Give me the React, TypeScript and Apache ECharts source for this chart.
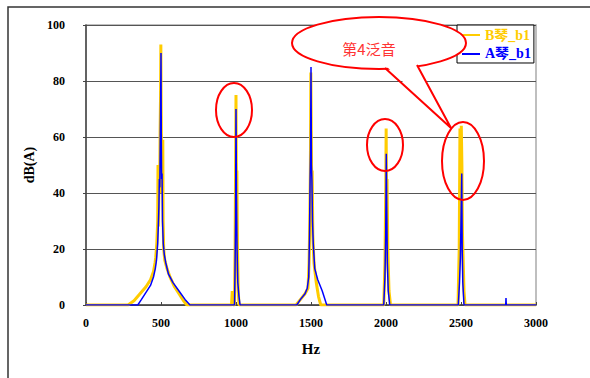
import React, { useEffect, useRef } from "react";
import * as echarts from "echarts";

// Spectrum data: frequency (Hz) and level dB(A)
const bHz = [0, 280, 320, 360, 400, 430, 450, 460, 465, 472, 478, 480, 482, 487, 491, 494, 497, 499, 501, 504, 508, 512, 514, 518, 525, 540, 560, 590, 620, 650, 673,
  970, 975, 980, 990, 994, 997, 1000, 1003, 1006, 1010, 1015, 1020,
  1400, 1430, 1460, 1480, 1487, 1492, 1496, 1499, 1502, 1505, 1508, 1512, 1520, 1535, 1550, 1565,
  1985, 1993, 1998, 2001, 2004, 2007, 2012, 2020, 2030,
  2480, 2488, 2493, 2497, 2502, 2506, 2510, 2520, 2527, 3000];
const bDb = [0, 0, 1.5, 4, 6.5, 9, 12, 15, 17, 22, 30, 50, 28, 45, 40, 62, 75, 93, 70, 50, 40, 59, 30, 20, 16, 13, 10, 6.5, 4, 1.5, 0,
  0, 5, 0, 0, 20, 48, 75, 35, 48, 20, 5, 0,
  0, 2, 4, 6, 15, 30, 50, 83, 60, 40, 48, 25, 15, 8, 3, 0,
  0, 15, 40, 63, 30, 45, 20, 5, 0,
  0, 20, 63, 40, 64, 50, 25, 5, 0, 0];

const aHz = [0, 345, 370, 400, 430, 450, 462, 470, 478, 482, 486, 489, 492, 495, 498, 500, 502, 504, 507, 510, 515, 522, 532, 550, 580, 620, 660, 693,
  990, 993, 997, 1000, 1003, 1007, 1012, 1020, 1027,
  1405, 1430, 1460, 1475, 1485, 1490, 1494, 1497, 1500, 1503, 1506, 1510, 1515, 1525, 1545, 1575, 1605,
  1985, 1993, 1998, 2002, 2005, 2009, 2015, 2025,
  2482, 2490, 2496, 2500, 2505, 2508, 2512, 2520,
  2798, 2800, 2802, 3000];
const aDb = [0, 0, 2, 4.5, 7, 10, 13, 16, 22, 28, 35, 45, 42, 58, 75, 90, 60, 45, 47, 30, 22, 18, 15, 11, 8, 5, 2, 0,
  0, 10, 30, 70, 40, 20, 8, 3, 0,
  0, 2, 4, 6, 10, 25, 45, 55, 85, 50, 45, 30, 22, 13, 9, 5, 0,
  0, 10, 25, 54, 35, 15, 5, 0,
  0, 8, 17, 30, 47, 20, 8, 0,
  0, 2.5, 0, 0];

const seriesNames = ["B琴_b1", "A琴_b1"];
const seriesColors = ["#FFCC00", "#0000FF"];
const annotationText = "第4泛音";

const serif = "'Liberation Serif', 'DejaVu Serif', 'Noto Sans CJK SC', serif";

export default function App() {
  const ref = useRef<HTMLDivElement>(null);
  useEffect(() => {
    document.body.style.margin = "0";
    const chart = echarts.init(ref.current!, undefined, { renderer: "svg" });
    const pairs = (xs: number[], ys: number[]) => xs.map((x, i) => [x, ys[i]]);
    chart.setOption({
      animation: false,
      backgroundColor: "#ffffff",
      grid: { left: 86, right: 54, top: 25, bottom: 73, show: true, borderColor: "#aaaaaa", borderWidth: 1.5 },
      legend: {
        orient: "vertical",
        left: 457,
        top: 25,
        backgroundColor: "#ffffff",
        borderColor: "#000000",
        borderWidth: 1,
        borderRadius: 0,
        padding: [3, 3, 2, 5],
        itemGap: 5,
        itemWidth: 18,
        itemHeight: 2,
        icon: "rect",
        data: seriesNames.map((n, i) => ({
          name: n,
          textStyle: { color: seriesColors[i] },
        })),
        textStyle: { fontFamily: serif, fontWeight: "bold", fontSize: 14 },
        z: 5,
      },
      xAxis: {
        type: "value",
        min: 0,
        max: 3000,
        interval: 500,
        name: "Hz",
        nameLocation: "middle",
        nameGap: 36,
        nameTextStyle: { fontFamily: serif, fontWeight: "bold", fontSize: 15, color: "#000" },
        axisLine: { lineStyle: { color: "#444", width: 1.5 } },
        axisTick: { inside: true, length: 3, lineStyle: { color: "#444" } },
        axisLabel: { margin: 12, fontFamily: serif, fontWeight: "bold", fontSize: 12, color: "#000", formatter: (v: number) => String(v) },
        splitLine: { show: false },
      },
      yAxis: {
        type: "value",
        min: 0,
        max: 100,
        interval: 20,
        name: "dB(A)",
        nameLocation: "middle",
        nameGap: 47,
        nameTextStyle: { fontFamily: serif, fontWeight: "bold", fontSize: 14, color: "#000" },
        axisLine: { show: true, lineStyle: { color: "#444", width: 1.5 } },
        axisTick: { show: true, length: 3, lineStyle: { color: "#444" } },
        axisLabel: { margin: 21, fontFamily: serif, fontWeight: "bold", fontSize: 12, color: "#000" },
        splitLine: { show: true, lineStyle: { color: "#555", width: 1 } },
      },
      series: [
        {
          name: seriesNames[0],
          type: "line",
          data: pairs(bHz, bDb),
          showSymbol: false,
          symbol: "none",
          lineStyle: { color: seriesColors[0], width: 3 },
          itemStyle: { color: seriesColors[0] },
          z: 2,
        },
        {
          name: seriesNames[1],
          type: "line",
          data: pairs(aHz, aDb),
          showSymbol: false,
          symbol: "none",
          lineStyle: { color: seriesColors[1], width: 1.5 },
          itemStyle: { color: seriesColors[1] },
          z: 3,
        },
      ],
      graphic: [
        {
          type: "rect",
          shape: { x: 8, y: 7, width: 620, height: 420 },
          style: { fill: "none", stroke: "#333", lineWidth: 1.5 },
          silent: true,
          z: 1,
        },
        {
          type: "ellipse",
          shape: { cx: 234, cy: 110, rx: 18, ry: 27 },
          style: { fill: "none", stroke: "#FF0000", lineWidth: 2 },
          z: 100,
        },
        {
          type: "ellipse",
          shape: { cx: 385, cy: 145, rx: 18, ry: 26 },
          style: { fill: "none", stroke: "#FF0000", lineWidth: 2 },
          z: 100,
        },
        {
          type: "ellipse",
          shape: { cx: 463, cy: 161, rx: 21, ry: 39 },
          style: { fill: "none", stroke: "#FF0000", lineWidth: 2 },
          z: 100,
        },
        {
          type: "ellipse",
          shape: { cx: 379, cy: 43, rx: 87, ry: 26 },
          style: { fill: "#ffffff", stroke: "#FF0000", lineWidth: 2 },
          z: 100,
        },
        {
          type: "polygon",
          shape: { points: [[386, 66], [451, 127], [416, 63]] },
          style: { fill: "#ffffff", stroke: "none" },
          z: 101,
        },
        {
          type: "polyline",
          shape: { points: [[385, 68], [451, 128], [417, 65]] },
          style: { fill: "none", stroke: "#FF0000", lineWidth: 2 },
          z: 102,
        },
        {
          type: "text",
          x: 369,
          y: 48,
          style: {
            text: annotationText,
            fill: "#FF3333",
            font: "15px 'Noto Sans CJK SC', sans-serif",
            textAlign: "center",
            textVerticalAlign: "middle",
          },
          z: 103,
        },
      ],
    });
    return () => chart.dispose();
  }, []);
  return <div ref={ref} style={{ width: 590, height: 378 }} />;
}
